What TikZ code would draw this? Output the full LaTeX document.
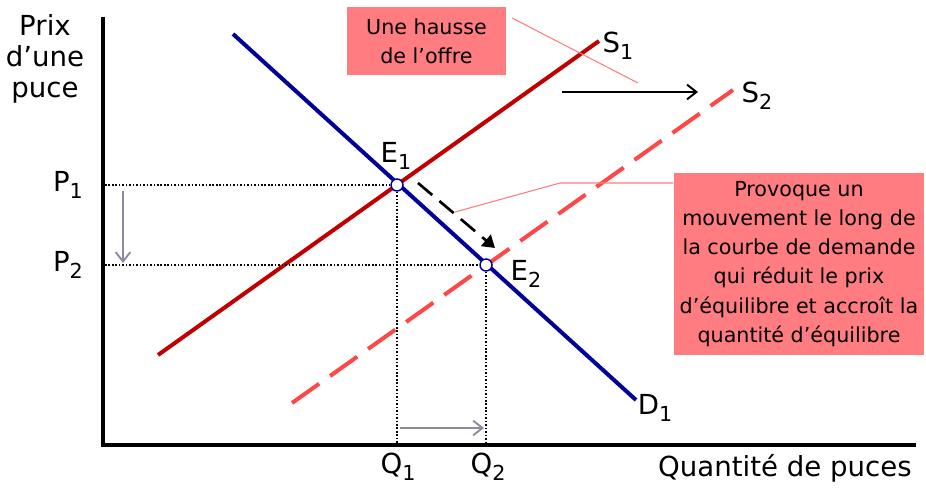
\documentclass[tikz,border=0pt]{standalone}
\usepackage{fontspec}
\setmainfont{DejaVu Sans}
\usetikzlibrary{arrows.meta,calc}
\definecolor{sredA}{HTML}{C00000}
\definecolor{sredB}{HTML}{FF4747}
\definecolor{dblue}{HTML}{000099}
\definecolor{boxpink}{HTML}{FF7C80}
\definecolor{garrow}{HTML}{8A8AA2}
\newcommand\mysub[1]{\raisebox{-5.5pt}{\fontsize{15.5}{15.5}\selectfont #1}}
\begin{document}
\begin{tikzpicture}[x=0.75pt,y=-0.75pt,
  lbl/.style={font=\fontsize{20.7}{23.3}\selectfont, inner sep=0pt, align=center},
  boxtxt/.style={fill=boxpink, draw=none, align=center, font=\fontsize{15.5}{21.9}\selectfont, inner sep=0pt},
  axisline/.style={line width=3.6pt, line join=miter},
  supplyA/.style={line width=3pt, sredA},
  supplyB/.style={line width=3pt, sredB, dash pattern=on 25pt off 10pt},
  demand/.style={line width=3pt, dblue},
  eqpt/.style={circle, draw=dblue, fill=white, line width=1.1pt, minimum size=9pt, inner sep=0pt},
  dotline/.style={line width=1.3pt, dash pattern=on 1.2pt off 1.4pt},
  grayarrow/.style={line width=1.4pt, garrow, -{Straight Barb[length=7pt,width=11pt,line width=1.4pt]}},
  blackarrow/.style={line width=1.5pt, black, -{Straight Barb[length=7pt,width=11pt,line width=1.5pt]}},
  dasharrow/.style={line width=2pt, black, dash pattern=on 14pt off 7pt, -{Triangle[length=9pt,width=11pt]}},
  pinkline/.style={line width=0.8pt, boxpink}
]
\useasboundingbox (0,0) rectangle (926,491);

% coordinates
\coordinate (ytop) at (103,17);
\coordinate (O) at (103,445);
\coordinate (xend) at (916,445);
\coordinate (S1a) at (158,355);
\coordinate (S1b) at (599,41);
\coordinate (S2a) at (292,403);
\coordinate (S2b) at (733,90);
\coordinate (D1a) at (233,34);
\coordinate (D1b) at (636,400);

% axes
\draw[axisline] (ytop) -- (O) -- (xend);

% curves
\draw[supplyA] (S1a) -- (S1b);
\draw[supplyB] (S2a) -- (S2b);
\draw[demand] (D1a) -- (D1b);

% equilibrium points
\node[eqpt] (E1) at (397,185) {};
\node[eqpt] (E2) at (486,265) {};

% dotted guides
\coordinate (P1ax) at (105,185);
\coordinate (P2ax) at (105,265);
\draw[dotline] (P1ax) -- (E1);
\draw[dotline] (P2ax) -- (E2);
\draw[dotline] (E1) -- (E1 |- O);
\draw[dotline] (E2) -- (E2 |- O);

% gray arrows
\coordinate (ga1) at (123,191);
\coordinate (ga2) at (123,263);
\draw[grayarrow] (ga1) -- (ga2);
\coordinate (gb1) at (400,428);
\coordinate (gb2) at (484,428);
\draw[grayarrow] (gb1) -- (gb2);

% black arrows
\coordinate (ba1) at (562,92);
\coordinate (ba2) at (698,92);
\draw[blackarrow] (ba1) -- (ba2);
\coordinate (da1) at (418,183);
\coordinate (da2) at (495,248);
\draw[dasharrow] (da1) -- (da2);

% boxes
\node[boxtxt, minimum width=119.5pt, minimum height=51pt] (b1) at (426.5,41)
  {Une hausse\\de l’offre};
\node[boxtxt, minimum width=188pt, minimum height=137pt] (b2) at (799,264)
  {Provoque un\\mouvement le long de\\la courbe de demande\\qui réduit le prix\\d’équilibre et accroît la\\quantité d’équilibre};

% pink pointer lines
\coordinate (pl1a) at (512,18);
\coordinate (pl1b) at (638,83);
\draw[pinkline] (pl1a) -- (pl1b);
\coordinate (pl2b) at (560,183);
\coordinate (pl2c) at (455,212);
\draw[pinkline] (b2.west |- pl2b) -- (pl2b) -- (pl2c);

% labels
\node[lbl] (ylab) at (45,59) {Prix\\d’une\\puce};
\node[lbl, anchor=base east] (xlab) at (912,477) {Quantité de puces};
\node[lbl] (lP1) at (68,185) {P\mysub{1}};
\node[lbl] (lP2) at (68,265) {P\mysub{2}};
\node[lbl] (lQ1) at (398,467) {Q\mysub{1}};
\node[lbl] (lQ2) at (488,467) {Q\mysub{2}};
\node[lbl] (lE1) at (396,156) {E\mysub{1}};
\node[lbl] (lE2) at (526,274) {E\mysub{2}};
\node[lbl] (lS1) at (618,46) {S\mysub{1}};
\node[lbl] (lS2) at (757,96) {S\mysub{2}};
\node[lbl] (lD1) at (655,408) {D\mysub{1}};
\end{tikzpicture}
\end{document}
